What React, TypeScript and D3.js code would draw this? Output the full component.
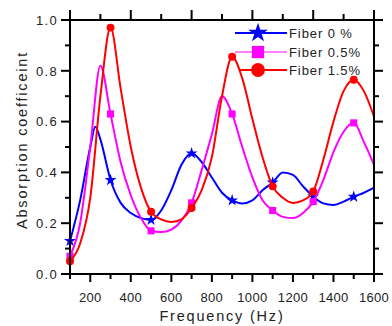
import React, { useEffect, useRef } from 'react';
import * as d3 from 'd3';

// frequencies sampled every 50 Hz (blue gets an extra point at its sharp peak)
const freqs = [100, 150, 200, 250, 300, 350, 400, 450, 500, 550, 600, 650, 700, 750, 800, 850, 900, 950, 1000, 1050, 1100, 1150, 1200, 1250, 1300, 1350, 1400, 1450, 1500, 1550, 1600];
const freqs0 = [100, 150, 200, 225, 250, 300, 350, 400, 450, 500, 550, 600, 650, 700, 750, 800, 850, 900, 950, 1000, 1050, 1100, 1150, 1200, 1250, 1300, 1350, 1400, 1450, 1500, 1550, 1600];

const fiber0 = [0.13, 0.29, 0.5, 0.58, 0.53, 0.37, 0.28, 0.24, 0.22, 0.213, 0.25, 0.33, 0.43, 0.475, 0.44, 0.38, 0.32, 0.29, 0.278, 0.29, 0.33, 0.36, 0.4, 0.39, 0.345, 0.305, 0.278, 0.272, 0.285, 0.304, 0.32, 0.34];
const fiber05 = [0.07, 0.2, 0.5, 0.82, 0.63, 0.44, 0.31, 0.22, 0.17, 0.165, 0.175, 0.21, 0.28, 0.41, 0.55, 0.7, 0.63, 0.5, 0.38, 0.29, 0.25, 0.225, 0.22, 0.24, 0.285, 0.37, 0.48, 0.56, 0.595, 0.52, 0.43];
const fiber15 = [0.05, 0.12, 0.3, 0.7, 0.97, 0.73, 0.5, 0.34, 0.245, 0.215, 0.205, 0.215, 0.26, 0.33, 0.46, 0.7, 0.855, 0.77, 0.61, 0.46, 0.345, 0.3, 0.28, 0.29, 0.325, 0.45, 0.6, 0.72, 0.765, 0.72, 0.62];

// markers every 200 Hz starting at 100
const markerFreqs = [100, 300, 500, 700, 900, 1100, 1300, 1500];

const seriesNames = ['Fiber 0 %', 'Fiber 0.5%', 'Fiber 1.5%'];
const seriesColors = ['#0000ff', '#ff00ff', '#ff0000'];
const seriesSymbols = [d3.symbolStar, d3.symbolSquare, d3.symbolCircle];

const xTicks = [200, 400, 600, 800, 1000, 1200, 1400, 1600];
const yTicks = [0, 0.2, 0.4, 0.6, 0.8, 1.0];

const App: React.FC = () => {
  const svgRef = useRef<SVGSVGElement>(null);

  useEffect(() => {
    if (!svgRef.current) return;
    const svg = d3.select(svgRef.current);
    svg.selectAll('*').remove();

    const left = 70, right = 374, top = 20, bottom = 274;
    const font = '"Liberation Sans", Arial, sans-serif';
    const textColor = '#222';

    const x = d3.scaleLinear().domain([100, 1600]).range([left, right]);
    const y = d3.scaleLinear().domain([0, 1]).range([bottom, top]);

    const series = [
      { f: freqs0, v: fiber0 },
      { f: freqs, v: fiber05 },
      { f: freqs, v: fiber15 },
    ];

    series.forEach((s, si) => {
      const color = seriesColors[si];
      const pts = s.v.map((v, i) => [s.f[i], v] as [number, number]);
      const line = d3.line<[number, number]>()
        .x(d => x(d[0]))
        .y(d => y(d[1]))
        .curve(d3.curveMonotoneX);

      svg.append('path')
        .attr('d', line(pts))
        .attr('fill', 'none')
        .attr('stroke', color)
        .attr('stroke-width', 2);

      const sym = d3.symbol().type(seriesSymbols[si]).size(si === 0 ? 45 : 50);
      markerFreqs.forEach(f => {
        const i = s.f.indexOf(f);
        svg.append('path')
          .attr('d', sym())
          .attr('transform', `translate(${x(f)},${y(s.v[i])})`)
          .attr('fill', color);
      });
    });

    // frame
    svg.append('rect')
      .attr('x', left).attr('y', top)
      .attr('width', right - left).attr('height', bottom - top)
      .attr('fill', 'none').attr('stroke', '#000').attr('stroke-width', 2);

    const tick = (x1: number, y1: number, x2: number, y2: number) =>
      svg.append('line').attr('x1', x1).attr('y1', y1).attr('x2', x2).attr('y2', y2)
        .attr('stroke', '#000').attr('stroke-width', 2);

    // bottom ticks: major 200, minor 100
    d3.range(100, 1601, 100).forEach(f => {
      const major = f % 200 === 0;
      tick(x(f), bottom, x(f), bottom + (major ? 8 : 5));
    });
    // top ticks: major every 300, minor in between
    d3.range(100, 1601, 150).forEach(f => {
      const major = (f - 100) % 300 === 0;
      tick(x(f), top, x(f), top - (major ? 10 : 6));
    });
    // left & right ticks
    d3.range(0, 11).forEach(k => {
      const v = k / 10;
      const major = k % 2 === 0;
      const len = major ? 9 : 5;
      tick(left, y(v), left - len, y(v));
      tick(right, y(v), right + len, y(v));
    });

    // tick labels
    svg.selectAll('.xlab').data(xTicks).enter().append('text')
      .attr('x', d => x(d)).attr('y', 302)
      .attr('text-anchor', 'middle')
      .style('font-family', font).style('font-size', '13px').style('fill', textColor)
      .style('letter-spacing', '0.3px')
      .text(d => String(d));

    svg.selectAll('.ylab').data(yTicks).enter().append('text')
      .attr('x', 58).attr('y', d => y(d) + 4.7)
      .attr('text-anchor', 'end')
      .style('font-family', font).style('font-size', '13px').style('fill', textColor)
      .style('letter-spacing', '1.3px')
      .text(d => d3.format('.1f')(d));

    // axis titles
    svg.append('text')
      .attr('x', 222).attr('y', 321)
      .attr('text-anchor', 'middle')
      .style('font-family', font).style('font-size', '14.5px').style('fill', textColor)
      .style('letter-spacing', '1.8px')
      .text('Frequency (Hz)');

    svg.append('text')
      .attr('transform', `translate(27,140) rotate(-90)`)
      .attr('text-anchor', 'middle')
      .style('font-family', font).style('font-size', '14.5px').style('fill', textColor)
      .style('letter-spacing', '1.8px')
      .text('Absorption coefficeint');

    // legend
    const legendY = [33, 52, 70];
    seriesNames.forEach((name, si) => {
      const ly = legendY[si];
      svg.append('line')
        .attr('x1', si === 2 ? 240 : 235).attr('x2', 287)
        .attr('y1', ly).attr('y2', ly)
        .attr('stroke', seriesColors[si])
        .attr('stroke-width', si === 1 ? 1.2 : 2);
      svg.append('path')
        .attr('d', d3.symbol().type(seriesSymbols[si]).size(si === 0 ? 120 : 150)())
        .attr('transform', `translate(258,${ly})`)
        .attr('fill', seriesColors[si]);
      svg.append('text')
        .attr('x', 289).attr('y', ly + 4.7)
        .style('font-family', font).style('font-size', '13px').style('fill', textColor)
        .style('letter-spacing', '0.9px')
        .text(name);
    });
  }, []);

  return (
    <svg ref={svgRef} width={392} height={326}
      style={{ position: 'absolute', left: 0, top: 0, background: '#fff' }} />
  );
};

export default App;
